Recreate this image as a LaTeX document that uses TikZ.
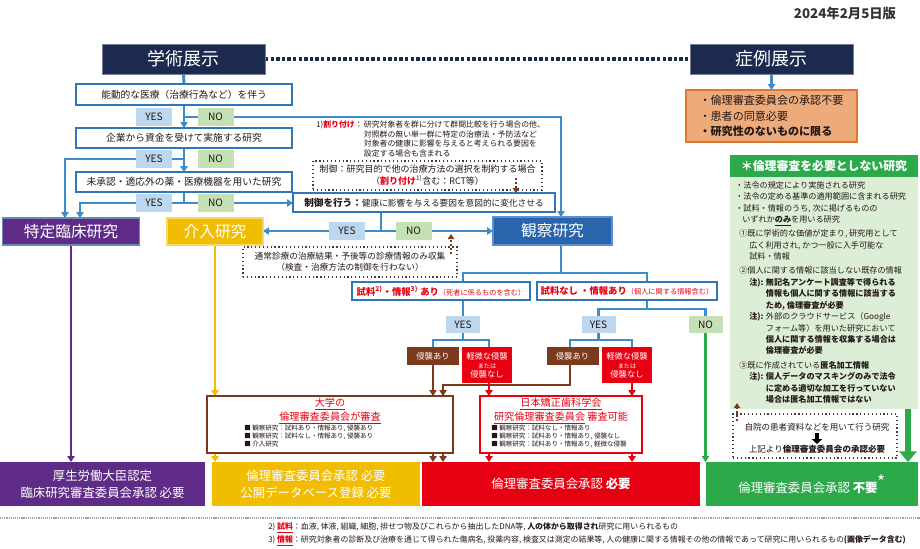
\documentclass[tikz,border=0pt]{standalone}
\usepackage{fontspec}
\setmainfont{Noto Sans CJK JP}
\usetikzlibrary{arrows.meta,backgrounds,calc}
\newcommand\fsz[2]{\fontsize{#1pt}{#2pt}\selectfont}
\definecolor{navy}{HTML}{1C2A50}
\definecolor{lblue}{HTML}{3A8DCA}
\definecolor{bblue}{HTML}{3176B9}
\definecolor{yesc}{HTML}{BDD7EE}
\definecolor{noc}{HTML}{C5E0B4}
\definecolor{purp}{HTML}{5E2C86}
\definecolor{purpb}{HTML}{6C88B5}
\definecolor{gold}{HTML}{F1BD00}
\definecolor{goldb}{HTML}{F7D96A}
\definecolor{jred}{HTML}{E60012}
\definecolor{brn}{HTML}{7B3A1D}
\definecolor{grn}{HTML}{2CAA4A}
\definecolor{lgrn}{HTML}{DDEED6}
\definecolor{orf}{HTML}{EDAA7B}
\definecolor{orb}{HTML}{DF7632}
\definecolor{obs}{HTML}{2A64AC}
\definecolor{obsb}{HTML}{5E8FD0}
\definecolor{txt}{HTML}{231815}
\definecolor{darkt}{HTML}{333333}
\begin{document}
\begin{tikzpicture}[x=0.75pt,y=-0.75pt,
  sz/.style 2 args={minimum width=#1*0.75pt, minimum height=#2*0.75pt, inner sep=0pt, outer sep=0pt},
  hbox/.style={fill=navy, draw=navy!60!white, line width=0.6pt, text=white, font=\fsz{13.5}{16}},
  qbox/.style={draw=bblue, line width=1.5pt, fill=white, text=txt, font=\fsz{7.3}{9}},
  ylab/.style={sz={36}{18}, fill=yesc, text=txt, font=\fsz{7.6}{9}},
  nlab/.style={sz={36}{18}, fill=noc, text=txt, font=\fsz{7.6}{9}},
  catb/.style={text=white, font=\fsz{11.8}{14}, line width=0.8pt},
  flowl/.style={draw=lblue, line width=2.2pt},
  arrw/.style={-{Triangle[length=4.4pt,width=5.4pt]}},
  dotb/.style={draw=txt!85, dotted, line width=0.9pt, fill=white, text=txt, align=center},
  bdot/.style={draw=brn, line width=1.7pt, dash pattern=on 1.8pt off 1.1pt, -{Triangle[length=3.8pt,width=4.8pt]}},
  shinb/.style={fill=brn, text=white, font=\fsz{6.2}{8}},
  keib/.style={fill=jred, text=white, align=center, font=\fsz{6.2}{6.8}},
  ttlt/.style={text=jred, align=center, font=\fsz{7.6}{9}, inner sep=0pt},
  bltt/.style={anchor=north west, align=left, font=\fsz{4.9}{6}, text=txt, inner sep=0pt},
  botb/.style={text=white, align=center, font=\fsz{9.3}{12.5}},
  bline/.style={draw=brn, line width=2pt},
  rline/.style={draw=jred, line width=2pt},
  pline/.style={draw=purp, line width=2pt},
  yline/.style={draw=gold, line width=2pt},
  gline/.style={draw=grn, line width=2pt}]
\useasboundingbox (0,0) rectangle (920,549);

% column coordinates
\coordinate (kx) at (561,0);
\coordinate (c65) at (65,0);
\coordinate (c80) at (80,0);
\coordinate (c381) at (381,0);
\coordinate (cSA) at (463,0);
\coordinate (cSB) at (647,0);
\coordinate (cA1) at (433,0);
\coordinate (cA2) at (489,0);
\coordinate (cA3) at (443,0);
\coordinate (cB1) at (570,0);
\coordinate (cB2) at (632,0);
\coordinate (c908) at (908,0);
\coordinate (j1) at (561,273);
\coordinate (j2) at (0,340);
\coordinate (j3) at (0,309);
\coordinate (j4) at (0,385);

\node[font=\fsz{10}{12}\bfseries, text=darkt] (date) at (845,13) {2024年2月5日版};

\node[hbox, sz={163}{30}] (gak) at (183.5,59) {学術展示};
\node[hbox, sz={163}{30}] (sho) at (771.5,59) {症例展示};
\node[sz={171}{52}, fill=orf, draw=orb, line width=1.5pt, align=left, font=\fsz{8.3}{11.5}, text=txt] (ora) at (771.5,116) {・倫理審査委員会の承認不要\\・患者の同意必要\\{\bfseries ・研究性のないものに限る}};

\node[qbox, sz={216}{21}] (q1) at (184,94.5) {能動的な医療（治療行為など）を伴う};
\node[ylab] (y1) at (154,117) {YES};
\node[nlab] (n1) at (215.5,117) {NO};
\node[qbox, sz={216}{20}] (q2) at (184,138) {企業から資金を受けて実施する研究};
\node[ylab] (y2) at (154,159) {YES};
\node[nlab] (n2) at (215.5,159) {NO};
\node[qbox, sz={216}{20}] (q3) at (184,182) {未承認・適応外の薬・医療機器を用いた研究};
\node[ylab] (y3) at (154,203) {YES};
\node[nlab] (n3) at (215.5,203) {NO};

\node[catb, sz={137}{27}, fill=purp, draw=purpb] (tok) at (71,231.5) {特定臨床研究};
\node[catb, sz={96}{27}, fill=gold, draw=goldb] (kai) at (215,231.5) {介入研究};
\node[qbox, sz={262}{19}] (sei) at (424,202.5) {{\bfseries\fsz{7.2}{9}制御を行う：}{\fsz{6.5}{8}健康に影響を与える要因を意図的に変化させる}};
\node[ylab] (y4) at (347,231) {YES};
\node[nlab] (n4) at (413.5,231) {NO};
\node[catb, sz={119}{28}, fill=obs, draw=obsb] (kan) at (552.5,231) {観察研究};

\node[anchor=north west, inner sep=0pt, font=\fsz{5.9}{7}, text=txt] (note) at (316,121) {\begin{tabular}{@{}l@{\,}l@{}}1)\textcolor{jred}{\bfseries 割り付け}：& 研究対象者を群に分けて群間比較を行う場合の他、\\ & 対照群の無い単一群に特定の治療法・予防法など\\ & 対象者の健康に影響を与えると考えられる要因を\\ & 設定する場合も含まれる\end{tabular}};

\node[dotb, sz={229}{29}, font=\fsz{6.75}{9}] (d1) at (427.5,175.5) {制御：研究目的で他の治療方法の選択を制約する場合\\（\textcolor{jred}{\bfseries 割り付け}\textsuperscript{1)}含む：RCT等）};
\node[dotb, sz={214}{30}, font=\fsz{6.5}{8.3}] (d2) at (350,262) {通常診療の治療結果・予後等の診療情報のみ収集\\（検査・治療方法の制御を行わない）};

\node[qbox, sz={178}{18}, text=jred] (sA) at (441,291) {{\bfseries\fsz{7}{8}試料\textsuperscript{2)}・情報\textsuperscript{3)} あり}{\fsz{5.4}{6}（死者に係るものを含む）}};
\node[qbox, sz={180}{18}, text=jred] (sB) at (627,291) {{\bfseries\fsz{7}{8}試料なし ・情報あり}{\fsz{5.4}{6}（個人に関する情報含む）}};

\node[ylab, sz={34}{17}] (yA) at (463,324.5) {YES};
\node[ylab, sz={34}{17}] (yB) at (598.5,324.5) {YES};
\node[nlab, sz={34}{17}] (nB) at (705.5,324.5) {NO};

\node[shinb, sz={52}{18}] (hA) at (433,356) {侵襲あり};
\node[keib, sz={50}{36}] (kA) at (487,365) {軽微な侵襲\\{\fsz{4.6}{6}または}\\侵襲なし};
\node[shinb, sz={52}{18}] (hB) at (572.5,356) {侵襲あり};
\node[keib, sz={50}{36}] (kB) at (627,365) {軽微な侵襲\\{\fsz{4.6}{6}または}\\侵襲なし};

\node[sz={246}{57}, draw=brn, line width=2.2pt, fill=white] (dai) at (330,424.5) {};
\node[ttlt] (daiT) at (330,411) {\underline{大学の}\\\underline{倫理審査委員会が審査}};
\node[bltt] (daiB) at (244,425) {■ 観察研究：試料あり・情報あり, 侵襲あり\\■ 観察研究：試料なし・情報あり, 侵襲あり\\■ 介入研究};

\node[sz={162}{57}, draw=jred, line width=2.2pt, fill=white] (nih) at (561,424.5) {};
\node[ttlt] (nihT) at (561,411) {\underline{日本矯正歯科学会}\\\underline{研究倫理審査委員会}\ 審査可能};
\node[bltt] (nihB) at (491,425) {■ 観察研究：試料なし・情報あり\\■ 観察研究：試料あり・情報あり, 侵襲なし\\■ 観察研究：試料あり・情報あり, 軽微な侵襲};

\node[botb, sz={205}{44}, fill=purp] (bP) at (102.5,484) {厚生労働大臣認定\\臨床研究審査委員会承認 必要};
\node[botb, sz={208}{44}, fill=gold] (bY) at (316,484) {倫理審査委員会承認 必要\\公開データベース登録 必要};
\node[botb, sz={278}{44}, fill=jred] (bR) at (561,484) {倫理審査委員会承認 {\bfseries 必要}};
\node[botb, sz={212}{44}, fill=grn] (bG) at (812,484) {倫理審査委員会承認 {\bfseries 不要}\raisebox{3pt}{\fsz{13}{13}*}};

\node[sz={188}{22}, fill=grn, text=white, font=\fsz{8.9}{10}\bfseries] (gH) at (824,166) {＊倫理審査を必要としない研究};
\node[sz={188}{232}, fill=lgrn] (gP) at (824,293) {};
\node[anchor=north west, inner sep=0pt, align=left, font=\fsz{6.1}{8.6}, text=txt] (gT) at (735,181) {%
・法令の規定により実施される研究\\
・法令の定める基準の適用範囲に含まれる研究\\
・試料・情報のうち, 次に掲げるものの\\
\hspace*{5.3pt}いずれか\underline{\bfseries のみ}を用いる研究\\[2pt]
\hspace*{3pt}①既に学術的な価値が定まり, 研究用として\\
\hspace*{10.5pt}広く利用され, かつ一般に入手可能な\\
\hspace*{10.5pt}試料・情報\\[2pt]
\hspace*{3pt}②個人に関する情報に該当しない既存の情報\\
\hspace*{10.5pt}\makebox[12.5pt][l]{\bfseries 注):}{\bfseries 無記名アンケート調査等で得られる}\\
\hspace*{23pt}{\bfseries 情報も個人に関する情報に該当する}\\
\hspace*{23pt}{\bfseries ため, 倫理審査が必要}\\
\hspace*{10.5pt}\makebox[12.5pt][l]{\bfseries 注):}外部のクラウドサービス（Google\\
\hspace*{23pt}フォーム等）を用いた研究において\\
\hspace*{23pt}{\bfseries 個人に関する情報を収集する場合は}\\
\hspace*{23pt}{\bfseries 倫理審査が必要}\\[2pt]
\hspace*{3pt}③既に作成されている{\bfseries 匿名加工情報}\\
\hspace*{10.5pt}\makebox[12.5pt][l]{\bfseries 注):}{\bfseries 個人データのマスキングのみで法令}\\
\hspace*{23pt}{\bfseries に定める適切な加工を行っていない}\\
\hspace*{23pt}{\bfseries 場合は匿名加工情報ではない}};

\node[dotb, sz={164}{44}] (d3) at (815,436) {};
\node[font=\fsz{6.4}{8}, text=txt, inner sep=0pt] (d3a) at (817,427) {自院の患者資料などを用いて行う研究};
\node[font=\fsz{6.4}{8}, text=txt, inner sep=0pt] (d3b) at (817,449) {上記より{\bfseries 倫理審査委員会の承認必要}};
\draw[line width=2.8pt, -{Triangle[length=3.6pt,width=7.5pt]}, shorten <=1.5pt, shorten >=0.5pt] (d3a.south) -- (d3b.north);

\node[anchor=west, font=\fsz{5.95}{7}, text=txt, inner sep=0pt] (fn2) at (268,528) {2) \textcolor{jred}{\underline{\bfseries 試料}}：血液, 体液, 組織, 細胞, 排せつ物及びこれらから抽出したDNA等, {\bfseries 人の体から取得され}研究に用いられるもの};
\node[anchor=west, font=\fsz{5.95}{7}, text=txt, inner sep=0pt] (fn3) at (268,541) {3) \textcolor{jred}{\underline{\bfseries 情報}}：研究対象者の診断及び治療を通じて得られた傷病名, 投薬内容, 検査又は測定の結果等, 人の健康に関する情報その他の情報であって研究に用いられるもの{\bfseries (画像データ含む)}};

\draw[gray!75, line width=0.9pt, dash pattern=on 0.9pt off 0.7pt] (0,518) -- (920,518);

% brown dotted hint arrows
\coordinate (bd1) at (516,178);
\draw[bdot] (bd1) -- (bd1 |- sei.north);
\coordinate (bd2) at (451,254);
\coordinate (bd2e) at (451,234);
\draw[bdot] (bd2) -- (bd2e);
\coordinate (bd3) at (737,421);
\coordinate (bd3e) at (737,403);
\draw[bdot] (bd3) -- (bd3e);

\begin{pgfonlayer}{background}
\fill[white] (0,0) rectangle (920,549);
\draw[navy, line width=2.6pt, dash pattern=on 2.6pt off 1.6pt] (gak.east) -- (sho.west);
\draw[flowl] (gak.south) -- (q1.north);
\draw[flowl,arrw] (q1.south) -- (q2.north);
\draw[flowl,arrw] (q1.south |- n1) -| (kx |- kan.north);
\draw[flowl,arrw] (q2.south) -- (q3.north);
\draw[flowl,arrw] (q2.south |- y2) -| (c65 |- tok.north);
\draw[flowl] (q3.south) -- (q3.south |- y3);
\draw[flowl,arrw] (q3.south |- y3) -| (c80 |- tok.north);
\draw[flowl,arrw] (q3.south |- n3) -- (sei.west |- n3);
\draw[flowl] (c381 |- sei.south) -- (c381 |- y4);
\draw[flowl,arrw] (c381 |- y4) -- (kai.east |- y4);
\draw[flowl,arrw] (c381 |- y4) -- (kan.west |- y4);
\draw[flowl,arrw] (sho.south) -- (ora.north);
\draw[flowl] (kx |- kan.south) -- (j1);
\draw[flowl] (cSA |- sA.north) |- (cSB |- j1) -- (cSB |- sB.north);
\draw[flowl] (cSA |- sA.south) -- (yA.north);
\draw[flowl] (yA.south) -- (yA.south |- j2);
\draw[flowl] (hA.north) |- (cA2 |- j2) -- (cA2 |- kA.north);
\draw[flowl] (cSB |- sB.south) -- (cSB |- j3);
\draw[flowl] (yB.north) |- (nB.north |- j3) -- (nB.north);
\draw[flowl] (yB.south) -- (yB.south |- j2);
\draw[flowl] (cB1 |- hB.north) |- (cB2 |- j2) -- (cB2 |- kB.north);
\draw[gline,arrw] (nB.south) -- (nB.south |- bG.north);
\draw[bline,arrw] (hA.south) -- (hA.south |- dai.north);
\draw[bline,arrw] (hA.south |- dai.south) -- (hA.south |- bR.north);
\draw[bline,arrw] (cB1 |- hB.south) |- (cA3 |- j4) -- (cA3 |- dai.north);
\draw[bline,arrw] (cA3 |- dai.south) -- (cA3 |- bR.north);
\draw[rline,arrw] (cA2 |- kA.south) -- (cA2 |- nih.north);
\draw[rline,arrw] (cA2 |- nih.south) -- (cA2 |- bR.north);
\draw[rline,arrw] (cB2 |- kB.south) -- (cB2 |- nih.north);
\draw[rline,arrw] (cB2 |- nih.south) -- (cB2 |- bR.north);
\draw[pline,arrw] (tok.south) -- (tok.south |- bP.north);
\draw[yline,arrw] (kai.south) -- (kai.south |- dai.north);
\draw[yline,arrw] (kai.south |- dai.south) -- (kai.south |- bY.north);
\draw[grn, line width=5pt, -{Triangle[length=8pt,width=13pt]}] (c908 |- gP.south) -- (c908 |- bG.north);
\end{pgfonlayer}
\end{tikzpicture}
\end{document}
